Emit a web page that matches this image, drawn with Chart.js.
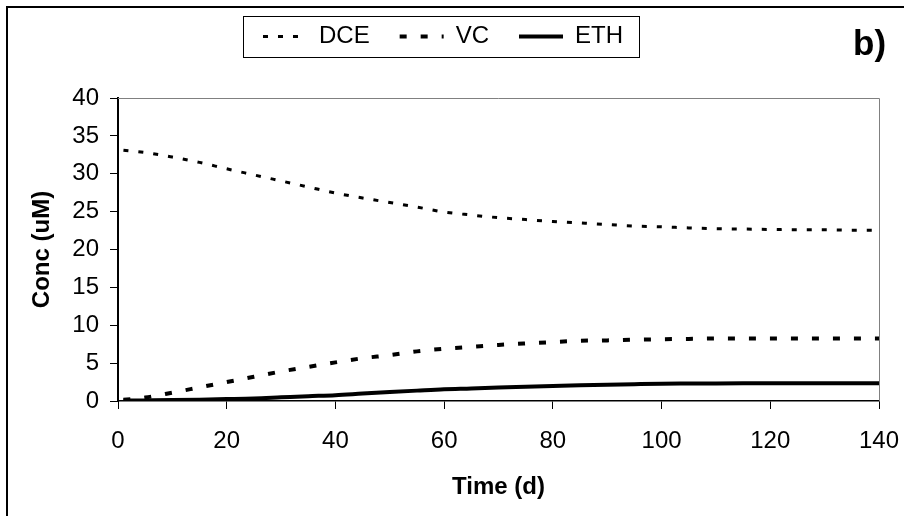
<!DOCTYPE html>
<html><head><meta charset="utf-8">
<script src="https://cdn.jsdelivr.net/npm/chart.js@4.4.1/dist/chart.umd.min.js"></script>
<style>
html,body{margin:0;padding:0;background:#fff;}
#wrap{position:relative;width:904px;height:516px;overflow:hidden;}
#c{position:absolute;left:0;top:0;}
#tag{position:absolute;left:853px;top:25px;font:bold 35px/35px 'Liberation Sans',Arial,sans-serif;color:#000;}
</style></head><body>
<div id="wrap"><canvas id="c" width="904" height="516"></canvas><div id="tag">b)</div></div>
<script>
// ---- data ----
const days = [1,5,10,15,20,25,30,35,40,45,50,55,60,65,70,75,80,85,90,95,100,105,110,115,120,125,130,135,140];
const dce  = [33.1,32.8,32.2,31.5,30.65,29.85,29.05,28.25,27.45,26.8,26.2,25.6,24.95,24.55,24.2,23.95,23.7,23.5,23.3,23.1,23.0,22.85,22.75,22.7,22.65,22.6,22.6,22.55,22.55];
const vc   = [0.15,0.45,1.1,1.8,2.5,3.2,3.9,4.5,5.1,5.65,6.05,6.55,6.9,7.15,7.4,7.6,7.78,7.95,8.0,8.1,8.15,8.2,8.25,8.25,8.25,8.25,8.25,8.25,8.25];
const eth  = [0.05,0.08,0.12,0.18,0.25,0.33,0.48,0.63,0.77,0.98,1.18,1.37,1.55,1.65,1.77,1.87,1.97,2.07,2.15,2.22,2.28,2.3,2.32,2.33,2.33,2.34,2.34,2.35,2.35];
const seriesNames = ['DCE','VC','ETH'];
const xAxisTitle = 'Time (d)';
const yAxisTitle = 'Conc (uM)';
const xMin = 0, xMax = 140, xStep = 20;
const yMin = 0, yMax = 40, yStep = 5;

const FONT = "'Liberation Sans', Arial, sans-serif";
Chart.defaults.font.family = FONT;
Chart.defaults.color = '#000';

const toPts = arr => days.map((d, i) => ({x: d, y: arr[i]}));

const PAD_TOP = -5.5;
const PLOT_TOP = 98;
const PAD_LEFT = 7;
const PLOT_LEFT = 118;

const legendFit = {
  id: 'legendFit',
  beforeLayout(chart) {
    const lg = chart.legend;
    if (lg && !lg.__patched) {
      const orig = lg.fit.bind(lg);
      lg.fit = function () { orig(); this.height = PLOT_TOP - PAD_TOP; };
      lg.__patched = true;
    }
  }
};

const frame = {
  id: 'frame',
  beforeDraw(chart) {
    const ctx = chart.ctx;
    ctx.save();
    ctx.fillStyle = '#fff';
    ctx.fillRect(0, 0, chart.width, chart.height);
    ctx.strokeStyle = '#000';
    ctx.lineWidth = 2;
    ctx.beginPath();
    ctx.moveTo(7, chart.height + 4);
    ctx.lineTo(7, 7);
    ctx.lineTo(chart.width + 4, 7);
    ctx.stroke();
    ctx.restore();
  },
  beforeDatasetsDraw(chart) {
    const {left, top, right, bottom} = chart.chartArea;
    const ctx = chart.ctx;
    ctx.save();
    ctx.strokeStyle = '#808080';
    ctx.lineWidth = 1;
    ctx.beginPath();
    ctx.moveTo(left, Math.round(top) + 0.5);
    ctx.lineTo(Math.round(right) + 0.5, Math.round(top) + 0.5);
    ctx.lineTo(Math.round(right) + 0.5, bottom);
    ctx.stroke();
    ctx.restore();
  },
  afterDraw(chart) {
    const hb = chart.legend && chart.legend.legendHitBoxes;
    if (!hb || !hb.length) return;
    const first = hb[0], last = hb[hb.length - 1];
    const cy = first.top + first.height / 2;
    const x0 = Math.round(first.left - 20) + 0.5;
    const x1 = Math.round(last.left + last.width + 16) + 0.5;
    const y0 = Math.round(cy - 20.5) + 0.5;
    const y1 = Math.round(cy + 20.5) + 0.5;
    const ctx = chart.ctx;
    ctx.save();
    ctx.strokeStyle = '#000';
    ctx.lineWidth = 1;
    ctx.strokeRect(x0, y0, x1 - x0, y1 - y0);
    ctx.restore();
  }
};

new Chart(document.getElementById('c'), {
  type: 'line',
  data: {
    datasets: [
      {label: seriesNames[0], data: toPts(dce), borderColor: '#000', backgroundColor: '#000', borderWidth: 3, borderDash: [5, 10], borderCapStyle: 'butt', pointRadius: 0, fill: false, cubicInterpolationMode: 'monotone'},
      {label: seriesNames[1], data: toPts(vc), borderColor: '#000', backgroundColor: '#000', borderWidth: 4, borderDash: [7, 14], borderCapStyle: 'butt', pointRadius: 0, fill: false, cubicInterpolationMode: 'monotone'},
      {label: seriesNames[2], data: toPts(eth), borderColor: '#000', backgroundColor: '#000', borderWidth: 4, borderCapStyle: 'butt', pointRadius: 0, fill: false, cubicInterpolationMode: 'monotone'}
    ]
  },
  options: {
    responsive: false,
    animation: false,
    devicePixelRatio: 1,
    layout: {padding: {top: PAD_TOP, left: PAD_LEFT, right: 25, bottom: 0}},
    plugins: {
      legend: {
        position: 'top',
        align: 'center',
        labels: {
          usePointStyle: true,
          pointStyle: 'line',
          pointStyleWidth: 44,
          padding: 30,
          color: '#000',
          font: {size: 24, family: FONT},
          generateLabels(chart) {
            const items = Chart.defaults.plugins.legend.labels.generateLabels(chart);
            items.forEach(it => {
              const ds = chart.data.datasets[it.datasetIndex];
              it.lineWidth = ds.borderWidth;
              it.lineDash = ds.borderDash || [];
              it.strokeStyle = ds.borderColor;
              it.lineCap = 'butt';
            });
            return items;
          }
        }
      },
      tooltip: {enabled: false}
    },
    scales: {
      x: {
        type: 'linear',
        min: xMin, max: xMax,
        afterFit(scale) { scale.height = 115; scale.paddingLeft = 0; scale.paddingRight = 0; },
        ticks: {stepSize: xStep, padding: 18, color: '#000', font: {size: 24}, maxRotation: 0},
        grid: {drawOnChartArea: false, color: '#000', lineWidth: 1, tickLength: 8},
        border: {display: true, color: '#000', width: 1.5},
        title: {display: true, text: xAxisTitle, color: '#000', font: {size: 24, weight: 'bold'}, padding: {top: 0, bottom: 14.6}}
      },
      y: {
        min: yMin, max: yMax,
        afterFit(scale) { scale.width = PLOT_LEFT - PAD_LEFT; },
        ticks: {stepSize: yStep, padding: 11, color: '#000', font: {size: 24}},
        grid: {drawOnChartArea: false, color: '#000', lineWidth: 1, tickLength: 8},
        border: {display: true, color: '#000', width: 2},
        title: {display: true, text: yAxisTitle, color: '#000', font: {size: 24, weight: 'bold'}, padding: {top: 20.6, bottom: 0}}
      }
    }
  },
  plugins: [legendFit, frame]
});
</script>
</body></html>
